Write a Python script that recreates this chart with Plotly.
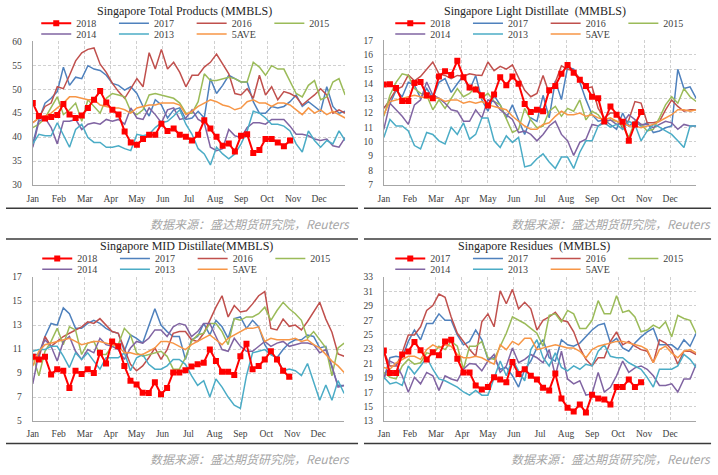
import plotly.graph_objects as go

W, H = 718, 475

months = ["Jan", "Feb", "Mar", "Apr", "May", "Jun", "Jul", "Aug", "Sep", "Oct", "Nov", "Dec"]
names_default = ["2018", "2017", "2016", "2015", "2014", "2013", "5AVE"]
names_resid = ["2017", "2017", "2016", "2015", "2014", "2013", "5AVE"]
colors = ["#FF0000", "#4F81BD", "#C0504D", "#9BBB59", "#8064A2", "#4BACC6", "#F79646"]
source_text = "数据来源：盛达期货研究院，Reuters"

# ---------------- Singapore Total Products (MMBLS) ----------------
tp_2018 = [47.1,44.4,43.9,44.2,44.6,46.9,44.7,44.0,44.5,46.1,47.8,49.6,47.2,45.7,44.7,41.2,38.9,38.4,39.6,40.5,40.5,42.8,41.3,41.8,40.5,40.1,39.3,40.5,43.5,41.8,40.1,38.2,38.7,37.0,40.3,40.6,36.7,37.3,39.6,39.6,38.9,38.1,39.3]
tp_2017 = [38.6,43.7,47.1,48.1,49.5,54.6,50.8,52.5,52.2,54.9,54.2,53.9,52.9,51.2,50.8,49.8,50.5,49.1,46.4,44.4,47.8,46.7,44.0,45.7,46.1,43.7,44.0,45.4,44.0,52.2,49.1,50.8,52.9,52.2,51.5,51.5,47.4,45.0,45.0,46.4,46.1,46.4,47.4,48.8,46.4,47.4,46.4,45.4,50.5,46.4,45.0,45.4]
tp_2016 = [43.0,44.0,46.4,47.1,50.5,50.1,52.9,55.9,57.6,58.3,58.6,55.2,53.5,51.2,49.5,48.1,50.1,52.2,50.5,57.6,54.2,58.3,54.2,55.6,53.5,50.5,52.9,52.9,54.6,55.6,57.3,55.2,53.2,49.1,48.8,50.1,48.1,52.9,48.8,50.5,47.8,49.5,49.1,48.4,46.7,47.8,48.8,50.1,48.8,45.0,45.7,45.0]
tp_2015 = [42.0,42.7,44.0,46.1,48.4,44.7,45.7,47.1,43.3,47.8,46.4,45.0,48.1,49.1,48.8,48.4,45.4,44.7,45.7,48.8,49.1,48.8,48.4,48.1,47.1,45.0,45.0,47.4,53.2,51.8,51.8,52.2,52.5,52.2,51.5,51.5,55.6,54.6,52.9,54.9,54.2,54.2,51.5,49.1,48.4,50.8,51.8,47.8,48.4,51.5,52.2,48.8]
tp_2014 = [37.9,43.3,44.0,42.0,38.6,43.3,43.3,43.7,41.6,42.7,43.0,42.7,43.7,43.3,43.7,42.7,46.1,44.0,43.7,46.1,44.7,43.0,45.7,46.1,43.7,44.0,45.7,43.7,43.0,37.9,37.2,37.6,41.6,40.3,39.9,42.0,43.0,43.0,42.7,43.7,43.7,43.7,42.3,40.6,40.6,40.3,39.6,39.3,39.6,38.2,37.9,39.9]
tp_2013 = [38.6,40.6,40.3,40.3,43.0,40.3,37.9,41.6,42.7,39.9,38.9,38.9,37.9,37.9,38.2,37.6,37.2,40.6,40.3,40.6,42.0,43.0,43.3,44.4,45.7,42.7,40.6,37.6,36.5,34.2,37.9,36.5,35.5,36.5,38.6,41.3,45.4,45.0,44.0,42.7,42.7,42.3,41.3,38.6,36.9,41.3,39.3,37.9,39.3,38.6,41.3,39.3]
tp_5ave = [43.0,44.0,44.4,45.0,46.1,47.1,48.4,48.4,48.1,47.8,47.8,46.7,46.4,46.1,46.1,45.7,45.0,46.1,46.4,46.7,46.7,47.1,47.1,47.1,46.7,44.7,45.4,46.4,47.1,47.8,47.4,46.7,46.4,45.7,46.1,47.4,47.8,47.1,47.1,46.4,47.1,47.1,46.7,45.7,44.7,46.1,45.0,45.7,44.7,45.4,44.7,44.0]

# ---------------- Singapore Light Distillate (MMBLS) ----------------
ld_2018 = [13.94,13.96,13.71,12.81,12.81,14.05,14.12,13.2,13.0,14.5,14.86,14.6,15.58,14.45,13.73,13.6,13.2,12.5,13.26,14.45,13.9,14.5,14.0,12.6,12.05,12.2,12.1,13.55,13.85,14.68,15.29,14.75,14.27,13.85,13.1,13.0,11.4,12.43,11.86,11.37,10.06,11.19,12.05]
ld_2017 = [12.36,12.6,13.55,13.1,14.1,13.9,13.0,13.67,13.0,14.1,14.35,13.4,14.0,14.57,13.55,14.57,12.9,12.1,13.2,12.54,11.64,12.54,11.5,10.5,11.64,11.4,13.2,11.64,14.2,12.9,15.13,15.0,14.1,12.9,11.86,11.41,11.5,11.19,10.85,11.98,11.08,11.41,11.08,11.3,10.63,10.74,10.96,11.08,15.0,13.67,13.78,12.99]
ld_2016 = [12.3,12.9,13.6,13.8,14.6,14.2,14.5,15.0,15.5,14.68,14.57,14.35,14.57,14.52,14.68,14.6,14.57,15.5,14.9,15.2,15.0,15.3,14.45,13.55,13.1,13.33,14.57,13.33,14.1,15.24,15.0,14.9,14.34,13.67,13.78,12.3,11.64,11.98,11.98,10.85,11.5,12.77,12.66,11.3,11.3,11.41,12.2,12.88,12.43,12.1,12.2,12.2]
ld_2015 = [11.75,13.2,14.1,14.68,14.57,13.67,13.33,13.2,12.2,12.88,12.3,13.0,13.67,13.1,13.33,13.78,13.0,13.33,12.77,12.54,11.64,10.63,10.85,12.3,11.5,10.96,11.08,12.1,12.43,11.75,12.3,12.1,12.88,11.5,12.1,11.86,11.3,11.5,11.41,11.08,10.29,11.41,11.19,10.74,10.85,11.64,12.54,13.1,12.65,13.67,13.1,12.77]
ld_2014 = [10.85,12.65,12.2,11.75,11.19,12.54,12.88,14.12,13.2,13.0,12.65,12.2,12.1,11.41,11.41,12.2,11.64,12.88,12.77,12.2,11.86,11.53,10.63,10.74,10.5,10.06,10.5,11.08,11.41,10.5,10.06,9.05,9.95,10.17,11.19,11.08,11.41,11.5,11.19,11.3,11.86,11.53,11.19,11.19,10.96,11.19,11.41,11.3,10.85,11.19,11.08,11.08]
ld_2013 = [10.29,11.53,11.08,11.08,10.74,9.73,9.5,10.63,10.5,10.06,9.84,11.0,10.5,11.3,10.17,10.5,11.64,11.64,10.06,9.6,10.4,9.95,10.29,8.26,8.37,8.82,9.16,8.6,8.15,8.94,8.94,8.15,9.27,10.06,10.06,11.08,11.3,11.0,11.19,10.85,11.41,11.19,10.06,10.74,11.19,11.0,10.74,10.5,10.06,9.6,11.08,11.08]
ld_5ave = [11.86,12.77,12.88,13.0,13.1,13.2,13.1,13.0,13.0,13.0,12.77,12.88,12.88,12.65,12.77,12.65,12.77,12.54,12.43,12.3,12.2,11.75,11.41,11.08,10.85,10.85,11.19,11.3,11.75,12.1,11.86,11.86,11.98,11.75,11.86,11.64,11.53,11.64,11.41,11.3,11.08,11.08,10.96,11.08,11.19,11.41,11.64,11.86,12.2,12.2,12.1,12.2]

# ---------------- Singapore MID Distillate (MMBLS) ----------------
md_2018 = [10.36,10.14,10.36,8.89,9.33,9.19,7.75,9.19,8.92,9.33,9.0,10.69,9.79,11.64,11.23,9.6,8.37,8.05,7.37,7.34,8.24,7.23,7.75,9.05,9.05,9.24,9.54,9.73,9.87,10.96,10.0,9.11,9.11,8.84,10.41,11.45,9.33,9.6,10.14,10.82,10.14,9.19,8.7]
md_2017 = [10.55,10.55,12.05,13.14,13.0,14.44,13.95,12.73,12.73,13.14,13.4,13.14,12.73,12.46,12.32,10.82,12.18,11.9,11.5,13.0,14.36,13.0,12.46,12.05,12.05,10.14,11.78,12.05,13.14,12.18,13.4,12.86,11.9,13.54,13.68,12.73,13.4,12.86,11.37,10.55,10.28,10.96,11.5,11.78,11.78,12.18,12.05,11.1,11.23,9.46,7.97,7.97]
md_2016 = [10.28,10.28,12.05,11.23,11.64,12.05,12.32,12.6,12.86,13.27,13.14,13.54,13.0,12.46,12.32,10.96,9.73,9.19,9.6,10.28,11.1,10.14,10.96,12.32,12.46,12.46,11.78,11.64,12.32,13.4,14.5,15.45,13.68,14.63,14.09,14.2,14.77,15.45,15.8,12.73,12.6,13.5,12.9,13.0,12.6,13.3,14.1,14.9,13.5,12.4,10.6,10.4]
md_2015 = [10.4,8.78,10.82,11.64,12.73,11.37,12.86,12.6,10.55,11.5,11.64,10.55,10.55,11.23,11.37,12.73,12.18,10.69,10.4,10.55,10.69,10.82,10.4,9.33,9.33,10.28,11.64,12.18,12.32,13.14,13.14,12.46,11.37,13.54,13.4,13.68,13.68,13.95,14.5,13.4,14.22,14.9,14.36,13.95,13.4,11.9,12.46,11.78,11.1,8.78,11.1,11.5]
md_2014 = [8.1,10.69,11.78,11.23,10.0,11.64,12.05,10.82,10.14,10.96,10.69,11.9,11.37,11.23,10.96,10.14,11.1,11.64,11.5,11.9,12.6,12.6,12.05,12.86,13.14,13.0,12.05,12.46,13.14,13.14,12.05,10.96,10.82,11.9,11.23,10.82,10.82,11.23,11.64,11.23,11.5,11.64,11.23,11.37,11.5,11.5,11.37,10.69,10.96,9.6,7.83,7.97]
md_2013 = [10.82,10.96,10.96,11.23,11.23,10.42,9.46,10.69,10.14,10.69,10.0,9.33,10.28,10.28,10.28,10.69,9.19,10.28,10.55,9.73,9.33,9.33,9.6,10.14,10.14,9.73,8.78,7.97,8.37,7.0,8.5,7.83,7.0,6.33,6.06,8.78,10.69,10.82,10.96,10.55,10.28,9.19,9.33,9.2,8.8,9.8,8.2,6.74,8.0,6.74,8.37,7.3]
md_5ave = [9.6,10.82,11.37,11.5,11.64,11.78,11.9,11.64,11.37,11.5,11.64,11.64,11.5,11.37,11.23,10.69,10.69,10.55,10.55,10.82,11.1,11.64,11.64,11.5,11.23,10.96,11.37,11.64,11.9,12.18,11.78,11.37,11.9,12.18,12.46,12.73,12.73,12.86,11.64,11.9,11.78,11.78,11.78,11.9,11.64,11.78,11.37,11.1,10.55,10.0,9.6,9.05]

# ---------------- Singapore Residues (MMBLS) ----------------
rs_2018 = [22.8,19.67,19.67,22.25,22.66,23.98,22.84,21.57,22.57,22.16,24.07,24.3,21.66,19.76,19.76,17.94,17.4,17.72,19.08,18.76,18.4,21.2,19.53,20.2,19.3,18.76,17.63,17.26,19.62,16.13,14.86,14.32,15.31,14.18,16.67,16.13,16.0,15.31,17.72,17.72,18.76,17.72,18.4]
rs_2017 = [18.85,21.8,22.0,21.8,24.07,25.65,24.3,26.56,26.56,27.9,27.0,27.0,24.97,23.6,24.07,25.65,24.3,21.57,21.8,20.2,20.44,19.3,17.72,20.2,21.34,23.16,24.3,21.8,21.34,24.3,23.6,23.4,23.84,24.7,25.65,26.33,26.56,23.84,24.5,23.16,22.7,23.84,24.7,25.4,25.9,23.6,23.6,23.6,22.93,24.3,23.4,25.2]
rs_2016 = [22.7,20.66,20.66,22.5,24.97,24.97,26.1,28.37,29.05,30.64,30.2,27.47,25.2,24.07,22.93,22.0,26.8,27.9,26.1,31.1,29.3,31.3,28.6,29.5,28.6,25.65,27.0,27.47,28.1,27.0,26.8,25.4,23.16,21.57,20.66,21.8,21.8,24.07,25.4,23.6,24.07,23.4,22.93,22.7,21.1,24.3,23.84,22.93,20.89,22.7,22.7,22.25]
rs_2015 = [19.76,19.08,18.85,20.66,21.57,20.9,21.1,22.48,22.25,23.4,22.93,24.07,23.4,20.2,23.4,23.4,24.07,21.8,21.57,23.4,25.2,27.47,27.0,26.56,25.88,25.2,23.4,27.7,27.9,26.8,28.37,27.9,25.88,25.88,27.0,29.73,27.9,27.9,30.4,28.1,28.37,27.47,25.4,25.65,26.33,25.88,26.8,24.7,27.7,27.25,27.0,25.2]
rs_2014 = [18.85,21.34,20.9,19.3,17.0,19.08,18.17,19.76,19.3,17.26,19.3,18.85,18.6,20.2,21.0,20.9,19.98,21.34,22.25,19.76,20.66,23.16,21.1,21.57,22.25,21.8,21.1,22.93,19.3,22.7,18.85,18.17,18.6,16.6,16.8,19.76,17.04,17.7,19.3,21.34,19.76,20.4,20.66,20.2,19.3,17.94,17.94,18.17,17.04,18.85,18.85,20.9]
rs_2013 = [19.08,18.17,18.4,17.94,20.66,19.53,20.66,21.8,20.2,18.85,18.6,18.17,17.72,17.04,16.6,17.26,16.6,16.6,19.08,21.34,19.3,21.57,19.98,18.6,22.93,24.3,21.8,20.66,22.48,20.44,19.98,20.66,20.2,20.9,20.66,22.7,23.6,22.0,21.8,21.8,21.1,20.66,20.2,19.08,17.72,20.2,20.2,20.2,20.66,22.25,21.57,20.44]
rs_5ave = [20.44,20.2,21.1,21.57,22.0,22.0,21.57,22.93,23.6,23.16,23.6,23.4,22.25,21.8,21.8,22.0,21.8,21.34,20.9,23.6,22.93,24.07,23.6,24.5,24.5,22.93,23.16,23.4,23.6,23.4,23.16,23.16,22.7,21.8,22.93,23.4,23.6,23.84,24.07,24.07,23.84,23.6,23.4,22.93,21.1,22.93,23.4,22.48,21.8,22.7,22.93,22.48]

N_WEEKS = 52

panels = [
    dict(title="Singapore Total Products (MMBLS)",
         series=[tp_2018, tp_2017, tp_2016, tp_2015, tp_2014, tp_2013, tp_5ave],
         names=names_default, yr=[30, 60], dt=5,
         box=(27, 342, 37, 184), tcx=180, tcy=6.3, legx=38, legy=(18.6, 29.6),
         src=(349, 223)),
    dict(title="Singapore Light Distillate  (MMBLS)",
         series=[ld_2018, ld_2017, ld_2016, ld_2015, ld_2014, ld_2013, ld_5ave],
         names=names_default, yr=[7, 17], dt=1,
         box=(381, 696, 36, 184), tcx=533, tcy=6.3, legx=395, legy=(18.6, 29.6),
         src=(713, 223)),
    dict(title="Singapore MID Distillate(MMBLS)",
         series=[md_2018, md_2017, md_2016, md_2015, md_2014, md_2013, md_5ave],
         names=names_default, yr=[5, 17], dt=2,
         box=(27, 341, 278, 425), tcx=182, tcy=246.5, legx=39, legy=(259, 270),
         src=(349, 463)),
    dict(title="Singapore Residues  (MMBLS)",
         series=[rs_2018, rs_2017, rs_2016, rs_2015, rs_2014, rs_2013, rs_5ave],
         names=names_resid, yr=[13, 33], dt=2,
         box=(381, 696, 278, 425), tcx=532, tcy=246.5, legx=395, legy=(259, 270),
         src=(713, 463)),
]

SERIF = "Liberation Serif"
TXT = "#404040"

fig = go.Figure()
annotations = []
shapes = []
layout_extra = {}

for i, p in enumerate(panels):
    ax = "" if i == 0 else str(i + 1)
    leg_a = "legend" if i == 0 else f"legend{2 * i + 1}"
    leg_b = f"legend{2 * i + 2}"
    x0, x1, y0, y1 = p["box"]

    for j in [1, 2, 3, 4, 5, 6, 0]:
        vals = p["series"][j]
        is_main = (j == 0)
        fig.add_trace(go.Scatter(
            x=list(range(len(vals))), y=vals, name=p["names"][j],
            xaxis="x" + ax, yaxis="y" + ax,
            legend=leg_a if j < 4 else leg_b, legendrank=j + 1,
            mode="lines+markers" if is_main else "lines",
            line=dict(color=colors[j], width=2 if is_main else 1.5),
            marker=dict(symbol="square", size=6, color=colors[j]),
            hoverinfo="x+y+name",
        ))

    layout_extra["xaxis" + ax] = dict(
        domain=[x0 / W, x1 / W], anchor="y" + ax, range=[0, N_WEEKS - 1],
        tickvals=[(N_WEEKS - 1) * m / 12 for m in range(12)], ticktext=months,
        showgrid=True, gridcolor="#D0D0D0", griddash="3px,2px", gridwidth=1,
        showline=True, linecolor="#A6A6A6", linewidth=1, zeroline=False,
        ticks="", ticklabelstandoff=4,
        tickfont=dict(family=SERIF, size=9.5, color=TXT),
    )
    layout_extra["yaxis" + ax] = dict(
        domain=[1 - y1 / H, 1 - y0 / H], anchor="x" + ax, range=p["yr"], dtick=p["dt"],
        tick0=p["yr"][0],
        showgrid=True, gridcolor="#D0D0D0", griddash="3px,2px", gridwidth=1,
        showline=True, linecolor="#A6A6A6", linewidth=1, zeroline=False,
        ticks="", ticklabelstandoff=8,
        tickfont=dict(family=SERIF, size=9.5, color=TXT),
    )
    for leg, ly in ((leg_a, p["legy"][0]), (leg_b, p["legy"][1])):
        layout_extra[leg] = dict(
            orientation="h", x=(p["legx"] - 7.5) / W, xanchor="left",
            y=1 - ly / H, yanchor="middle",
            entrywidth=32.7, entrywidthmode="pixels",
            bgcolor="rgba(0,0,0,0)", borderwidth=0,
            font=dict(family=SERIF, size=10, color=TXT),
            itemclick=False, itemdoubleclick=False,
        )
    annotations.append(dict(
        text=p["title"], x=p["tcx"] / W, y=1 - p["tcy"] / H, xref="paper", yref="paper",
        xanchor="center", yanchor="middle", showarrow=False,
        font=dict(family=SERIF, size=12, color="#262626"),
    ))
    annotations.append(dict(
        text=source_text, x=p["src"][0] / W, y=1 - p["src"][1] / H, xref="paper", yref="paper",
        xanchor="right", yanchor="middle", showarrow=False,
        font=dict(family="Noto Sans CJK SC", size=12, color="#A6A6A6", style="italic"),
    ))

# panel separator rules
for yy in (207.5, 239, 448):
    for xa, xb in ((0, 355), (361, 711)):
        shapes.append(dict(type="line", xref="paper", yref="paper",
                           x0=xa / W, x1=xb / W, y0=1 - yy / H, y1=1 - yy / H,
                           line=dict(color="#3A3A3A", width=1.5)))

fig.update_layout(
    width=W, height=H, autosize=False,
    margin=dict(l=0, r=0, t=0, b=0),
    paper_bgcolor="white", plot_bgcolor="white",
    showlegend=True,
    annotations=annotations, shapes=shapes,
    **layout_extra,
)

fig.write_html(
    "out.html",
    config={"displayModeBar": False},
    post_script="document.body.style.margin='0';document.body.style.padding='0';",
)
